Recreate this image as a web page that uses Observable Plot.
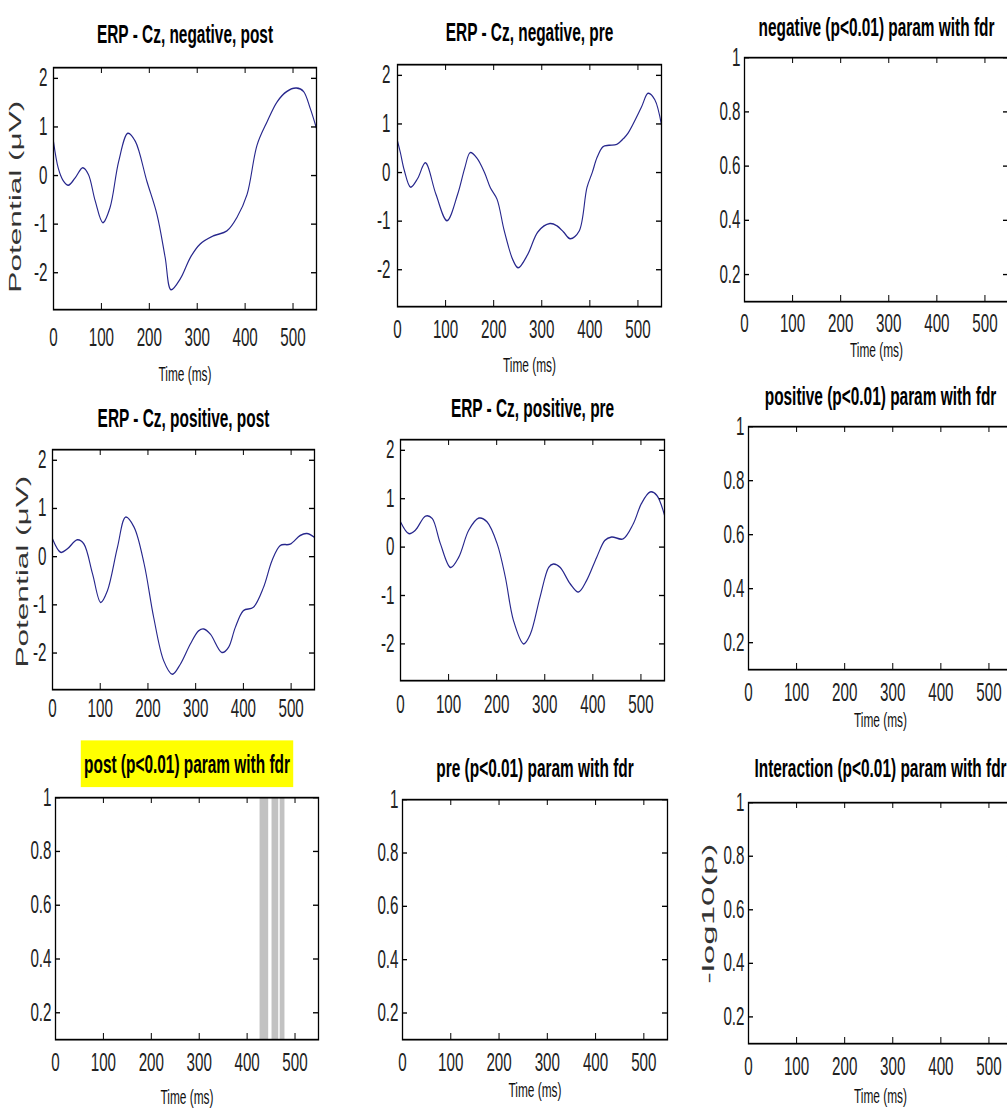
<!DOCTYPE html>
<html><head><meta charset="utf-8">
<script src="https://cdn.jsdelivr.net/npm/d3@7"></script>
<script src="https://cdn.jsdelivr.net/npm/@observablehq/plot@0.6"></script>
<style>
html,body{margin:0;padding:0;background:#fff;overflow:hidden;}
#page{position:relative;width:1007px;height:1113px;overflow:hidden;background:#fff;}
.panel{position:absolute;transform-origin:0 0;}
</style></head><body><div id="page"></div>
<script>
// ---------- data ----------
const xTicks = [0, 100, 200, 300, 400, 500];
const erpYTicks = [-2, -1, 0, 1, 2];
const pYTicks = [0.2, 0.4, 0.6, 0.8, 1];
const xDomain = [0, 549];
const erpYDomain = [-2.76, 2.22];
const pYDomain = [0.1, 1];

const titles = [
  "ERP - Cz, negative, post", "ERP - Cz, negative, pre", "negative (p<0.01) param with fdr",
  "ERP - Cz, positive, post", "ERP - Cz, positive, pre", "positive (p<0.01) param with fdr",
  "post (p<0.01) param with fdr", "pre (p<0.01) param with fdr", "Interaction (p<0.01) param with fdr"
];
const xLabel = "Time (ms)";
const erpYLabel = "Potential (\u03bcV)";
const pYLabel = "-log10(p)";

// ERP waveforms: [time (ms), potential (µV)]
const negPost = [[0,0.70],[10,0.15],[20,-0.10],[31,-0.20],[45,-0.05],[61,0.16],[73,0.02],[87,-0.52],[103,-0.97],[118,-0.66],[136,0.29],[155,0.87],[171,0.70],[195,-0.12],[216,-0.80],[233,-1.68],[245,-2.35],[265,-2.12],[286,-1.68],[306,-1.41],[334,-1.24],[362,-1.14],[383,-0.86],[404,-0.39],[425,0.63],[446,1.11],[467,1.52],[487,1.73],[507,1.80],[522,1.73],[536,1.38],[549,0.97]];
const negPre = [[0,0.65],[6,0.41],[14,0.05],[27,-0.30],[42,-0.12],[58,0.20],[80,-0.45],[103,-0.99],[125,-0.45],[140,0.10],[151,0.41],[165,0.30],[181,0.00],[193,-0.31],[207,-0.55],[222,-1.20],[240,-1.80],[251,-1.96],[271,-1.68],[292,-1.22],[317,-1.05],[332,-1.10],[345,-1.22],[359,-1.36],[378,-1.20],[394,-0.31],[405,0.00],[415,0.31],[427,0.53],[440,0.56],[456,0.58],[470,0.70],[480,0.82],[507,1.34],[521,1.63],[535,1.50],[549,0.98]];
const posPost = [[0,0.37],[17,0.09],[31,0.16],[52,0.35],[66,0.26],[84,-0.36],[101,-0.95],[115,-0.71],[136,0.19],[153,0.82],[171,0.61],[192,-0.15],[212,-1.26],[233,-2.16],[251,-2.44],[268,-2.23],[289,-1.81],[306,-1.54],[317,-1.50],[331,-1.61],[355,-1.99],[369,-1.88],[383,-1.47],[400,-1.12],[421,-1.05],[442,-0.64],[460,-0.08],[477,0.23],[498,0.26],[519,0.44],[533,0.48],[549,0.40]];
const posPre = [[0,0.52],[17,0.28],[31,0.35],[52,0.64],[66,0.59],[83,0.07],[104,-0.42],[121,-0.21],[142,0.35],[163,0.60],[180,0.52],[201,0.07],[218,-0.62],[235,-1.52],[256,-2.00],[270,-1.80],[290,-1.04],[308,-0.42],[318,-0.35],[332,-0.42],[353,-0.76],[370,-0.93],[387,-0.69],[408,-0.21],[425,0.14],[439,0.21],[463,0.17],[484,0.48],[501,0.90],[519,1.14],[533,1.07],[549,0.66]];
// significant intervals (ms) for "post"
const postSig = [[427,445],[452,466],[469,479]];

// ---------- layout ----------
const S = 1.35;              // vertical stretch of the original figure
const SX = 0.82;             // horizontal squeeze -> narrow typeface
const FONT = '"Liberation Sans",Arial,sans-serif';
const panels = [
  {title:0, left:53, top:67, right:316, bottom:309, ml:53, titleY:34, yPad:6, xPad:14, timeY:374, line:negPost, yl:{x:15,y:196,len:192}},
  {title:1, left:397, top:64, right:661, bottom:306, ml:60, titleY:32, yPad:7, xPad:10, timeY:365, line:negPre},
  {title:2, left:744, top:57, right:1008, bottom:301, ml:60, titleY:27, yPad:4, xPad:9, timeY:350},
  {title:3, left:52, top:449, right:314, bottom:689, ml:52, titleY:418, yPad:6, xPad:7, line:posPost, yl:{x:22,y:571,len:192}},
  {title:4, left:400, top:439, right:664, bottom:680, ml:60, titleY:408, yPad:6, xPad:11, line:posPre},
  {title:5, left:748, top:426, right:1012, bottom:669, ml:60, titleY:396, yPad:4, xPad:10, timeY:720},
  {title:6, left:55, top:797, right:318, bottom:1039, ml:55, titleY:764, yPad:4, xPad:10, timeY:1097, bars:postSig, highlight:true},
  {title:7, left:402, top:799, right:667, bottom:1039, ml:60, titleY:768, yPad:4, xPad:10, timeY:1090},
  {title:8, left:748, top:802, right:1012, bottom:1043, ml:60, titleY:768, yPad:4, xPad:10, timeY:1096, yl:{x:708,y:913,len:140}, pLabel:true}
];

const page = document.getElementById("page");
const MT = 60, MB = 64, MR = 20;

for (const c of panels) {
  const erp = !!c.line;
  const W = c.right - c.left;
  const H = (c.bottom - c.top) / S;
  const tlx = 6 / S, tly = 5;
  const yTicks = erp ? erpYTicks : pYTicks;
  const titleText = titles[c.title];
  const ylText = c.yl ? (c.pLabel ? pYLabel : erpYLabel) : null;
  const marks = [];
  if (c.bars) marks.push(Plot.rect(c.bars, {x1: d => d[0], x2: d => d[1], fill: "#c2c2c2"}));
  if (c.line) marks.push(Plot.line(c.line, {x: d => d[0], y: d => d[1], stroke: "#26268c", strokeWidth: 1.1, curve: "catmull-rom"}));
  marks.push(Plot.frame({stroke: "#000", strokeWidth: 1.3}));
  marks.push(Plot.tickX(xTicks, {x: d => d, insetTop: H - tlx, stroke: "#000"}));
  marks.push(Plot.tickX(xTicks, {x: d => d, insetBottom: H - tlx, stroke: "#000"}));
  marks.push(Plot.tickY(yTicks, {y: d => d, insetRight: W - tly, stroke: "#000"}));
  marks.push(Plot.tickY(yTicks, {y: d => d, insetLeft: W - tly, stroke: "#000"}));
  marks.push(Plot.axisX({ticks: xTicks, tickSize: 0, tickPadding: c.xPad, tickFormat: d => String(d), label: null, fill: "#222"}));
  marks.push(Plot.axisY({ticks: yTicks, tickSize: 0, tickPadding: c.yPad, tickFormat: d => String(d), label: null, fill: "#222"}));
  marks.push(Plot.text([titleText], {text: d => d, frameAnchor: "top", lineAnchor: "middle", textAnchor: "middle", dy: -(c.top - c.titleY) / S,
    fontWeight: "bold", fontSize: 18.8, fill: "#000"}));
  if (c.timeY) marks.push(Plot.text([xLabel], {text: d => d, frameAnchor: "bottom", lineAnchor: "middle", textAnchor: "middle", dy: (c.timeY - c.bottom) / S, fontSize: 14.5, fill: "#111"}));
  if (ylText) marks.push(Plot.text([ylText], {text: d => d, frameAnchor: "left", lineAnchor: "middle", textAnchor: "middle", rotate: -90,
    dx: -(c.left - c.yl.x), dy: (c.yl.y - (c.top + c.bottom) / 2) / S,
    fontSize: 16.5, fontWeight: "normal", fill: "#333"}));

  const svg = Plot.plot({
    width: c.ml + W + MR, height: MT + H + MB,
    marginLeft: c.ml, marginRight: MR, marginTop: MT, marginBottom: MB,
    x: {domain: xDomain}, y: {domain: erp ? erpYDomain : pYDomain},
    style: {background: "none", fontFamily: FONT, fontSize: "18.5px", color: "#111", maxWidth: "none", overflow: "visible"},
    marks
  });
  const div = document.createElement("div");
  div.className = "panel";
  div.style.left = (c.left - c.ml) + "px";
  div.style.top = (c.top - MT * S) + "px";
  div.style.width = (c.ml + W + MR) + "px";
  div.style.transform = `scaleY(${S})`;
  div.appendChild(svg);
  page.appendChild(div);

  for (const t of svg.querySelectorAll("text")) {
    const tr = t.getAttribute("transform") || "";
    if (t.textContent === ylText) {
      const natural = t.getComputedTextLength();
      const k = natural > 0 ? (c.yl.len / S) / natural : 1;
      t.setAttribute("transform", tr + ` scale(${k},1)`);
      continue;
    }
    t.setAttribute("transform", tr + ` scale(${SX},1)`);
    if (c.highlight && t.textContent === titleText) {
      const bb = t.getBBox();
      const r = document.createElementNS("http://www.w3.org/2000/svg", "rect");
      r.setAttribute("x", bb.x - 4); r.setAttribute("y", bb.y - 7);
      r.setAttribute("width", bb.width + 8); r.setAttribute("height", bb.height + 14);
      r.setAttribute("fill", "#ffff00");
      r.setAttribute("transform", t.getAttribute("transform"));
      t.parentNode.insertBefore(r, t);
    }
  }
}
</script></body></html>
